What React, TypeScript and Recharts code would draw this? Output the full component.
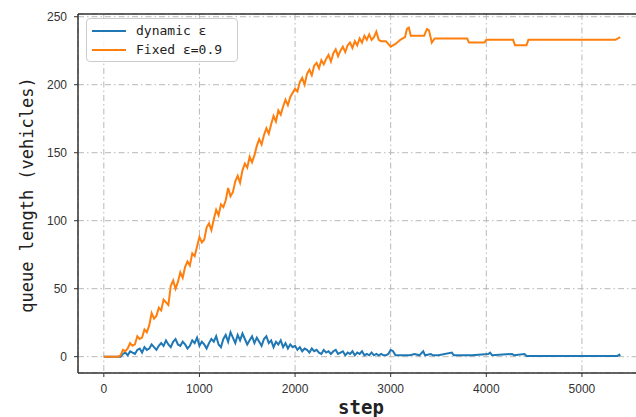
import { LineChart, Line, XAxis, YAxis, CartesianGrid, ReferenceLine } from "recharts";

// fixed epsilon = 0.9 run
const FIXED_STEPS = [
  0,
  150, 175, 200, 225, 250, 275, 300, 325, 350, 375, 400, 425, 450, 475, 500, 525, 550, 575, 600, 625,
  650, 675, 700, 725, 750, 775, 800, 825, 850, 875, 900, 925, 950, 975, 1000, 1025, 1050, 1075, 1100, 1125,
  1150, 1175, 1200, 1225, 1250, 1275, 1300, 1325, 1350, 1375, 1400, 1425, 1450, 1475, 1500, 1525, 1550, 1575, 1600, 1625,
  1650, 1675, 1700, 1725, 1750, 1775, 1800, 1825, 1850, 1875, 1900, 1925, 1950, 1975, 2000, 2025, 2050, 2075, 2100, 2125,
  2150, 2175, 2200, 2225, 2250, 2275, 2300, 2325, 2350, 2375, 2400, 2425, 2450, 2475, 2500, 2525, 2550, 2575, 2600, 2625,
  2650, 2675, 2700, 2725, 2750, 2775, 2800, 2825, 2850, 2875, 2900,
  2950, 3000, 3050, 3100, 3150, 3170, 3190, 3210, 3350, 3380, 3400, 3430, 3460, 3800, 3820, 3980, 4000, 4280, 4300, 4420,
  4440, 5350, 5400,
];
const FIXED_QUEUE = [
  0,
  0, 1, 5, 4, 6, 10, 8, 9, 15, 13, 14, 20, 18, 23, 32, 28, 30, 36, 34, 42,
  40, 38, 52, 56, 50, 55, 62, 58, 66, 70, 67, 76, 74, 81, 88, 84, 86, 95, 98, 93,
  101, 108, 104, 112, 110, 115, 124, 118, 121, 129, 133, 128, 137, 142, 139, 147, 143, 148, 155, 160,
  156, 163, 168, 164, 171, 177, 173, 181, 178, 184, 189, 185, 191, 194, 197, 195, 202, 205, 200, 208,
  211, 207, 214, 216, 212, 218, 215, 219, 222, 217, 223, 226, 221, 225, 228, 224, 229, 231, 227, 232,
  229, 234, 231, 236, 233, 237, 233, 235, 239, 233, 232,
  232, 228, 230, 233, 235, 241, 242, 236, 236, 241, 240, 231, 234, 234, 231, 231, 233, 233, 229, 229,
  233, 233, 235,
];

// dynamic epsilon run
const DYNAMIC_STEPS = [
  0,
  150, 175, 200, 225, 250, 275, 300, 325, 350, 375, 400, 425, 450, 475, 500, 525, 550, 575, 600, 625,
  650, 675, 700, 725, 750, 775, 800, 825, 850, 875, 900, 925, 950, 975, 1000, 1025, 1050, 1075, 1100, 1125,
  1150, 1175, 1200, 1225, 1250, 1275, 1300, 1325, 1350, 1375, 1400, 1425, 1450, 1475, 1500, 1525, 1550, 1575, 1600, 1625,
  1650, 1675, 1700, 1725, 1750, 1775, 1800, 1825, 1850, 1875, 1900, 1925, 1950, 1975, 2000, 2025, 2050, 2075, 2100, 2125,
  2150, 2175, 2200, 2225, 2250, 2275, 2300, 2325, 2350, 2375, 2400, 2425, 2450, 2475, 2500, 2525, 2550, 2575, 2600, 2625,
  2650, 2675, 2700, 2725, 2750, 2775, 2800, 2825, 2850, 2875, 2900, 2925, 2950, 2975, 3000,
  3025, 3050, 3100, 3150, 3200, 3250, 3300, 3340, 3360, 3420, 3440, 3500, 3640, 3660, 3800, 3850, 4020, 4040, 4060, 4270,
  4290, 4400, 4420, 5370, 5390, 5400,
];
const DYNAMIC_QUEUE = [
  0,
  0, 0, 2, 3, 1, 4, 3, 2, 5, 6, 3, 7, 5, 6, 9, 7, 5, 8, 10, 8,
  12, 9, 7, 11, 13, 9, 8, 11, 9, 6, 8, 12, 10, 14, 8, 11, 9, 6, 10, 13,
  11, 15, 9, 7, 13, 16, 11, 18, 14, 10, 16, 12, 17, 13, 9, 12, 15, 10, 14, 11,
  8, 13, 15, 10, 12, 7, 11, 9, 12, 7, 10, 6, 9, 7, 8, 5, 7, 4, 6, 5,
  3, 6, 4, 5, 3, 2, 5, 3, 4, 2, 4, 5, 2, 3, 4, 1, 3, 2, 4, 1,
  3, 2, 4, 1, 2, 1, 3, 1, 2, 1, 2, 1, 1, 2, 5,
  4, 1, 1, 1, 1, 2, 1, 4, 1, 2, 1, 1, 3, 1, 1, 1, 2, 3, 1, 2,
  1, 2, 0.5, 0.5, 1.5, 0.5,
];

const X_TICKS = [0, 1000, 2000, 3000, 4000, 5000];
const Y_TICKS = [0, 50, 100, 150, 200, 250];

const fixedData = FIXED_STEPS.map((step, i) => ({ step, queue: FIXED_QUEUE[i] }));
const dynamicData = DYNAMIC_STEPS.map((step, i) => ({ step, queue: DYNAMIC_QUEUE[i] }));

const BLUE = "#1f77b4";
const ORANGE = "#ff7f0e";
const SPINE = "#333333";
const MONO = "'DejaVu Sans Mono', 'Liberation Mono', monospace";
const tickStyle = { fill: "#333", fontSize: 12, fontFamily: "'Liberation Sans', Arial, sans-serif" };

export default function App() {
  return (
    <div style={{ position: "absolute", left: 0, top: 0, width: 636, height: 417, overflow: "hidden", background: "#fff" }}>
      <LineChart width={660} height={417} margin={{ top: 14, right: 14, bottom: 0, left: 0 }}>
        <CartesianGrid stroke="#b8b8b8" strokeDasharray="6 3 1.5 3" />
        <XAxis
          dataKey="step"
          type="number"
          domain={[-270, 5670]}
          ticks={X_TICKS}
          height={44}
          tick={tickStyle}
          tickSize={4}
          tickMargin={7}
          axisLine={{ stroke: SPINE, strokeWidth: 1.5 }}
          tickLine={{ stroke: SPINE }}
          allowDataOverflow
        />
        <YAxis
          type="number"
          domain={[-12, 252]}
          ticks={Y_TICKS}
          width={78}
          tick={tickStyle}
          tickSize={4}
          tickMargin={7}
          axisLine={{ stroke: SPINE, strokeWidth: 1.5 }}
          tickLine={{ stroke: SPINE }}
          allowDataOverflow
        />
        <ReferenceLine y={252} stroke={SPINE} strokeWidth={1.5} />
        <ReferenceLine x={5670} stroke={SPINE} strokeWidth={1.5} />
        <Line data={dynamicData} dataKey="queue" stroke={BLUE} strokeWidth={2} dot={false} isAnimationActive={false} />
        <Line data={fixedData} dataKey="queue" stroke={ORANGE} strokeWidth={2} dot={false} isAnimationActive={false} />
      </LineChart>

      <div
        style={{
          position: "absolute",
          left: 86,
          top: 18,
          width: 150,
          height: 42,
          border: "1px solid #cccccc",
          borderRadius: 4,
          background: "rgba(255,255,255,0.85)",
          fontFamily: MONO,
          fontSize: 13,
          color: "#222",
        }}
      >
        {[
          { label: "dynamic ε", color: BLUE, top: 3 },
          { label: "Fixed ε=0.9", color: ORANGE, top: 22 },
        ].map((item) => (
          <div key={item.label} style={{ position: "absolute", left: 5, top: item.top, height: 17, display: "flex", alignItems: "center" }}>
            <span style={{ display: "inline-block", width: 34, height: 2, background: item.color, marginRight: 10 }} />
            <span>{item.label}</span>
          </div>
        ))}
      </div>

      <div
        style={{
          position: "absolute",
          left: 27,
          top: 195,
          transform: "translate(-50%, -50%) rotate(-90deg)",
          whiteSpace: "nowrap",
          fontFamily: MONO,
          fontSize: 17,
          color: "#222",
        }}
      >
        queue length (vehicles)
      </div>
      <div
        style={{
          position: "absolute",
          left: 361,
          top: 407,
          transform: "translate(-50%, -50%)",
          fontFamily: MONO,
          fontSize: 19,
          fontWeight: "bold",
          color: "#222",
        }}
      >
        step
      </div>
    </div>
  );
}
